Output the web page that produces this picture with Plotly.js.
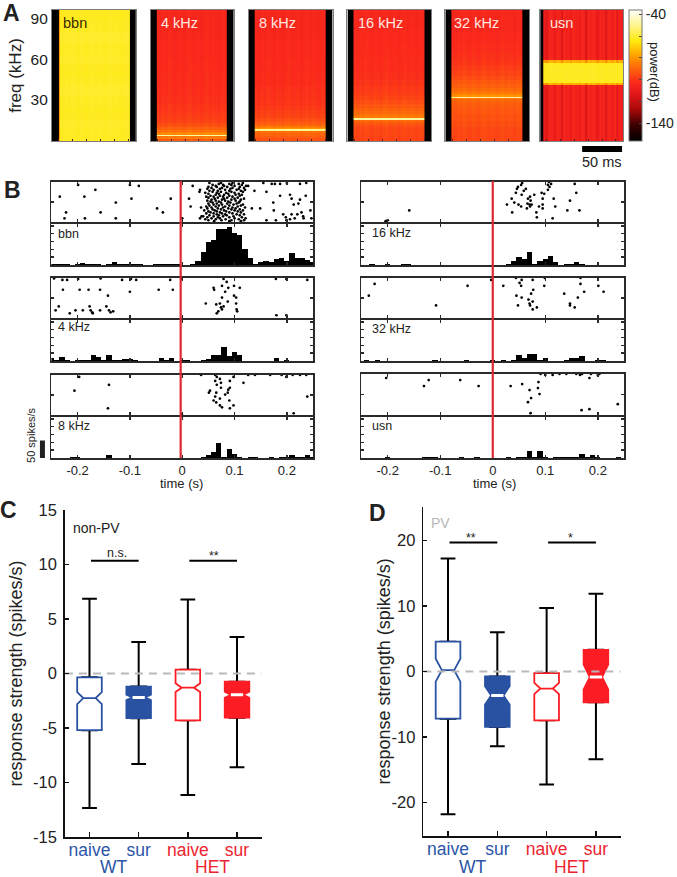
<!DOCTYPE html>
<html><head><meta charset="utf-8">
<script src="https://cdn.plot.ly/plotly-3.0.1.min.js"></script>
<style>html,body{margin:0;padding:0;background:#fff}</style></head>
<body><div id="chart" style="width:677px;height:877px"></div>
<script>
/* ---------- panel A: spectrogram rows (kHz edges, dB per band) ---------- */
const specNames = ['bbn','4 kHz','8 kHz','16 kHz','32 kHz','usn'];
const bbnEdges = [0,8,16,24,32,40,48,56,64,72,80,88,96];
const bbnDb = [-62,-61.5,-62.5,-62,-61,-62,-62.5,-61.5,-62,-61,-62,-62.5];
const k4Edges = [0,1.5,3.4,4.6,5.5,6.5,8,9,10,11,13,15,18,22,27,33,40,50,60,75,96];
const k4Db = [-92,-86,-48,-82,-85,-88,-90,-91,-93,-95,-97,-98,-99,-100,-101,-101.5,-102,-102.5,-103,-104];
const k8Edges = [0,2,4,5.5,7,7.6,8.6,9.2,10,11,12,13,15,17,20,23,26,30,35,40,50,60,75,96];
const k8Db = [-94,-92,-90,-88,-85,-50,-80,-84,-87,-89,-91,-93,-95,-97,-98,-99,-100,-100.5,-101,-102,-102.5,-103,-104];
const k16Edges = [0,4,8,10,12,13.5,15,15.6,16.5,17,18,20,22,24,27,30,33,36,40,45,50,60,70,82,96];
const k16Db = [-97,-96.5,-96,-95,-93,-91,-88,-48,-82,-85,-87,-89,-91,-93,-95,-97,-98,-99,-100,-101,-102,-102.5,-103,-104];
const k32Edges = [0,5,10,15,20,24,27,29,30.5,31.6,32.6,33.5,35,37,39,42,45,48,52,56,60,66,72,80,96];
const k32Db = [-96.5,-96,-95,-94,-93,-92,-91,-89,-86,-48,-80,-84,-87,-89,-91,-93,-95,-97,-98.5,-100,-101,-102,-103,-104];
const usnEdges = [0,41,42.5,44,56,57.5,59,96];
const usnDb = [-106,-75,-63,-62,-63,-75,-106];
const faintStreak = [0,-1,.5,-.5,1,0,-1,.5,0,-1,.5,1,-.5,0,.5,-1,0,1,-.5,.5,0,-1,.5,0];
const usnStreak = [-3,-7,0,1,-1,-4,1,0,-8,2,-1,0,-4,2,0,-1,-3,2,0,-9,1,-1,2,0,-5,1,-1,0,-8,1,-1,-3,2,-6,0,-2];
const blackLeft = [8.5,7,7.5,7,7,4];
const blackRight = [98,96,97,96,96,105];
/* ---------- panel B: rasters (time s, trial) ---------- */
const bbnSparseT = [-.199,-.166,-.234,-.187,-.127,-.097,-.10,-.083,-.022,-.048,-.037,-.222,-.225,-.186,-.127,-.156,0,.02,.013,.016,.034,.037,.036,.033,.034,.126,.138,.133,.149,.161,.155,.171,.177,.187,.2,.225,.237,.187,.206,.209,.225,.236,.174,.213,.222,.175,.228,.245,.193,.209,.22,.231,.198,.206,.215,.232,.179,.199,.247,.161];
const bbnSparseTrial = [38,33,26,26,20,24,38,37,24,14,10,10,4,4,4,10,4,37,24,16,4,6,15,31,33,37,32,14,14,31,40,39,39,39,40,39,40,27,28,24,23,27,20,18,19,12,10,12,8,8,8,6,5,3,4,4,2,2,4,2];
const bbnDenseTrials = [
 [.061,.09,.112],[.05,.075,.094,.118],[.044,.064,.083,.108],[.056,.072,.1,.121],[.048,.068,.09,.114],
 [.04,.06,.078,.098],[.052,.07,.085,.11],[.066,.082,.104,.118],[.046,.06,.076,.096],[.054,.072,.09,.112],
 [.05,.066,.084,.106],[.042,.062,.08,.1,.116],[.058,.074,.094,.11],[.048,.068,.088,.102],[.056,.078,.096,.12],
 [.046,.064,.082,.106],[.052,.07,.09,.112],[.06,.076,.098,.116],[.05,.066,.086,.104],[.058,.074,.092,.108],
 [.054,.07,.088,.11],[.048,.064,.082,.102],[.056,.076,.094,.112],[.062,.08,.1,.118],[.05,.068,.086,.106],
 [.046,.06,.078,.096],[.054,.072,.09,.11],[.064,.08,.102,.114],[.05,.07,.088,.108],[.044,.066,.084,.1],
 [.058,.074,.094,.116],[.052,.068,.09,.112],[.06,.082,.104,.12],[.048,.072,.092,.108],[.056,.076,.096,.118],
 [.05,.066,.086,.11],[.064,.08,.1,.122],[.058,.078,.094,.114],[.07,.09,.108],[.052,.074,.096,.116]];
const k4T = [-.245,-.229,-.22,-.199,-.156,-.115,-.098,-.088,-.023,-.001,-.228,-.196,-.179,-.157,-.1,-.045,-.018,-.142,-.236,-.242,-.215,-.204,-.19,-.177,-.175,-.172,-.171,-.157,-.145,-.14,-.137,-.132,.079,.085,.099,.11,.076,.06,.061,.088,.082,.099,.103,.076,.045,.065,.072,.079,.087,.103,.074,.069,.066,.076,.104,.105,.18,.199,.179,.199,.239];
const k4Trial = [40.5,39,39,40,40.5,39,40,39,39,40,29,29,29,29,27,29,29,23,12,8,5,8,8,12,8,6,5,8,12,8,6,7,40,37,33,31,33,31,29,31,27,23,21,21,15,14,15,12,17,15,11,7,5,9,9,7,3,3,40,40,39];
const k8T = [-.197,-.14,-.206,-.142,.213,-.001,.239,.036,.063,.098,.126,.139,.168,.19,.199,.211,.225,.237,.066,.072,.063,.091,.066,.074,.074,.117,.091,.088,.053,.051,.065,.087,.082,.063,.09,.06,.065,.072,.072,.076,.098,.091];
const k8Trial = [39,31,25,7,2,1,19,41,41,39,41,41,41,41,39,41,41,41,39,37,35,35,31,33,28,33,28,26,25,23,23,23,21,19,15,15,13,17,10,8,10,7];
const k16T = [-.159,-.204,-.2,.056,.054,.048,.046,.063,.059,.044,.055,.036,.027,.041,.049,.054,.037,.071,.067,.072,.066,.07,.074,.071,.065,.079,.093,.098,.095,.088,.095,.095,.083,.084,.114,.116,.119,.142,.147,.159,.165,.156,.107,.111,.105,.108,.105];
const k16Trial = [12,1,2,40,38,36,34,34,32,30,28,24,18,20,18,16,10,26,24,22,19,18,18,16,14,28,30,29,24,16,18,14,10,5,4,24,16,12,22,30,12,39,41,39,38,36,33];
const k32T = [-.225,-.236,-.048,-.108,-.003,.02,.044,.055,.076,.099,.051,.054,.098,.077,.073,.045,.055,.068,.076,.07,.048,.071,.084,.076,.136,.174,.162,.147,.147,.156,.167,.201,.211,.167];
const k32Trial = [35,23,33,13,39,33,41,39,39,41,36,33,33,29,25,23,21,19,17,15,13,13,11,9,25,27,21,15,13,11,35,33,27,41];
const usnT = [-.203,-.122,-.131,-.062,-.027,.034,.056,.087,.07,.086,.089,.073,.067,.072,.091,.10,.114,.127,.14,.159,.166,.17,.184,.187,.2,.203,.238,.184,.169];
const usnTrial = [37,35,29,35,29,29,31,33,25,27,21,17,13,2,41,40,40,41,41,41,40,41,37,41,40,41,11,6,5];
/* ---------- panel B: PSTH (spikes/s per 10 ms bin) ---------- */
const binCenters = [-.25,-.24,-.23,-.22,-.21,-.20,-.19,-.18,-.17,-.16,-.15,-.14,-.13,-.12,-.11,-.10,-.09,-.08,-.07,-.06,-.05,-.04,-.03,-.02,-.01,0,.01,.02,.03,.04,.05,.06,.07,.08,.09,.10,.11,.12,.13,.14,.15,.16,.17,.18,.19,.20,.21,.22,.23,.24,.25];
const psthBbn = [2,2,2,2,1,2,6,2,3,3, 0,2,7,2,2,2,3,2,0,1, 2,2,3,2,2,0,1,4,10,37, 63,68,98,98,105,88,83,44,18,4, 9,11,7,16,19,11,33,19,18,13,9];
const psth4 = [7,4,11,4,0,4,4,4,16,12, 4,16,4,2,6,6,2,0,0,0, 0,7,2,7,0,2,2,0,0,2, 5,16,16,39,13,25,16,0,0,0, 0,0,1,7,0,3,0,0,0,0,0];
const psth8 = [0,0,0,0,2,2,0,0,0,0, 0,7,0,0,0,0,0,0,0,0, 0,0,0,0,0,0,0,0,1,3, 7,16,42,3,26,12,2,1,2,2, 1,1,2,0,2,2,7,2,2,7,4];
const psth16 = [0,0,2,0,0,2,0,0,2,2, 0,0,0,0,0,0,0,0,0,0, 0,0,0,0,0,0,0,1,2,11, 21,16,35,4,11,16,26,7,1,3, 3,7,3,1,0,0,0,0,0,0,0];
const psth32 = [0,2,0,2,0,1,0,0,0,0, 0,0,0,0,2,0,0,0,0,0, 2,0,0,0,0,4,0,2,1,4, 17,7,18,18,4,7,1,0,0,3, 7,7,13,1,0,3,3,0,0,0,0];
const psthUsn = [0,0,0,0,0,2,0,0,0,0, 0,0,2,2,2,0,0,0,0,2, 0,0,2,0,0,0,0,0,2,0, 3,3,18,3,18,3,0,2,2,2, 2,4,12,3,7,3,0,0,0,3,0];
/* ---------- panels C, D: box statistics ---------- */
const boxCats = ['naive','sur','naive','sur'];
const groupNames = ['WT','HET'];
const cQ1 = [-5.2,-4.1,-4.3,-4.05];
const cMed = [-2.25,-2.2,-1.3,-1.95];
const cQ3 = [-0.35,-1.2,0.35,-0.75];
const cLow = [-12.35,-8.3,-11.15,-8.6];
const cHigh = [6.85,2.9,6.8,3.35];
const cNotch = [0.55,0.25,0.4,0.28];
const dQ1 = [-7.2,-8.45,-7.45,-4.7];
const dMed = [0.2,-3.65,-2.6,-0.85];
const dQ3 = [4.55,-0.75,-0.25,3.3];
const dLow = [-21.8,-11.4,-17.25,-13.4];
const dHigh = [17.25,6,9.7,11.85];
const dNotch = [1.75,1.4,0.85,1.9];
const cSig = 10.35, dSig = 19.7;

/* ---------- helpers ---------- */
const W = 677, H = 877;
const px = v => v / W, py = v => 1 - v / H;
const layout = {
  width:W, height:H, margin:{l:0,r:0,t:0,b:0}, paper_bgcolor:'#fff', plot_bgcolor:'#fff',
  showlegend:false, bargap:0, boxmode:'overlay', annotations:[], shapes:[],
  font:{family:'"Liberation Sans", Arial, sans-serif', color:'#222'},
  coloraxis:{cmin:-156.5,cmax:-36,colorscale:[[0,'#000000'],[.12,'#3a0000'],[.25,'#b00a0a'],[.38,'#ea1a1c'],[.45,'#fb2a1c'],[.62,'#ff8c00'],[.76,'#ffe80a'],[.88,'#fff58a'],[1,'#ffffff']],
    colorbar:{x:629/W,xanchor:'left',y:py(10),yanchor:'top',lenmode:'pixels',len:131,thicknessmode:'pixels',thickness:13,xpad:0,ypad:0,
      outlinecolor:'#777',outlinewidth:1,tickvals:[-140,-120,-100,-80,-60,-40],ticktext:['-140','','','','','-40'],ticks:'inside',ticklen:3,tickcolor:'#444',tickfont:{size:14,color:'#222'}}}
};
const data = [];
let axN = 0;
function addAxes(x0,x1,yTop,yBot,xo,yo){
  axN++; const s = axN===1?'':axN;
  layout['xaxis'+s] = Object.assign({domain:[px(x0),px(x1)],anchor:'y'+s,zeroline:false,showgrid:false},xo);
  layout['yaxis'+s] = Object.assign({domain:[py(yBot),py(yTop)],anchor:'x'+s,zeroline:false,showgrid:false},yo);
  return {x:'x'+s,y:'y'+s};
}
function note(x,y,text,size,color,extra){
  layout.annotations.push(Object.assign({xref:'paper',yref:'paper',x:px(x),y:py(y),text,showarrow:false,xanchor:'center',yanchor:'middle',font:{size,color}},extra||{}));
}

/* ---------- panel A ---------- */
const specEdges = [bbnEdges,k4Edges,k8Edges,k16Edges,k32Edges,usnEdges];
const specDb = [bbnDb,k4Db,k8Db,k16Db,k32Db,usnDb];
const specBox = [[52,136],[151,234],[249,333],[348,432],[446,530],[541,624]];
const specLabelX = [75,180,278,381,477,562];
specNames.forEach((name,p)=>{
  const L = blackLeft[p], R = blackRight[p], isUsn = p===5, isBbn = p===0;
  const streak = isUsn ? usnStreak : faintStreak;
  const xe = [0,L]; const vals = [null];
  const innerL = isBbn?L+.9:L, innerR = isBbn?R-.9:R;
  if(isBbn){ xe.push(innerL); vals.push('edge'); }
  streak.forEach((s,j)=>{ xe.push(innerL+(innerR-innerL)*(j+1)/streak.length); vals.push(s); });
  if(isBbn){ xe.push(R); vals.push('edge'); }
  if(R<105){ xe.push(105); vals.push(null); }
  const z = specDb[p].map(db => vals.map((v,j)=>{
    if(v===null) return -156;
    if(v==='edge') return -80;
    if(isUsn && xe[j+1]<=5) return -106 + v;
    if(isBbn) return db + v*.5;
    return db + (db > -70 ? v*.1 : v);
  }));
  const a = addAxes(specBox[p][0],specBox[p][1],10,141,
    {range:[0,105],tick0:26,dtick:17.5,ticks:'inside',ticklen:2,tickcolor:'#5a2020',showticklabels:false,showline:true,linecolor:'#808080',linewidth:1,mirror:true},
    p===0?{range:[0,96],tickvals:[30,60,90],ticktext:['30','60','90'],ticks:'',tickfont:{size:15.5,color:'#222'},showline:true,linecolor:'#808080',linewidth:1,mirror:true,
      title:{text:'freq (kHz)',font:{size:17,color:'#222'},standoff:4}}:
      {range:[0,96],showticklabels:false,ticks:'',showline:true,linecolor:'#808080',linewidth:1,mirror:true});
  data.push({type:'heatmap',x:xe,y:specEdges[p],z,coloraxis:'coloraxis',xaxis:a.x,yaxis:a.y,hoverinfo:'skip'});
  note(specLabelX[p],23,name,14.5,p===0?'#3a2a00':'#ffe8e0');
});
note(655,72,'power(dB)',13,'#222',{textangle:90});
note(603,162,'50 ms',14.5,'#222');
layout.shapes.push({type:'rect',xref:'paper',yref:'paper',x0:px(583),x1:px(623),y0:py(152),y1:py(146),fillcolor:'#000',line:{width:0}});

/* ---------- panel B ---------- */
const bbnDenseT = [], bbnDenseTrial = [];
bbnDenseTrials.forEach((row,i)=>row.forEach(t=>{bbnDenseT.push(t);bbnDenseTrial.push(i+1);}));
const rasters = [
 {x:bbnSparseT.concat(bbnDenseT),y:bbnSparseTrial.concat(bbnDenseTrial),psth:psthBbn,label:'bbn'},
 {x:k4T,y:k4Trial,psth:psth4,label:'4 kHz'},
 {x:k8T,y:k8Trial,psth:psth8,label:'8 kHz'},
 {x:k16T,y:k16Trial,psth:psth16,label:'16 kHz'},
 {x:k32T,y:k32Trial,psth:psth32,label:'32 kHz'},
 {x:usnT,y:usnTrial,psth:psthUsn,label:'usn'}];
const rowPx = [[182,223,265],[278,319,361],[375,416,458],[182,223,265],[278,319,361],[374,416,458]];
const frame = {showline:true,linecolor:'#2a2a2a',linewidth:1.6,mirror:'allticks',ticks:'inside',ticklen:3,tickcolor:'#2a2a2a',tickwidth:1.4};
const timeVals = [-.2,-.1,0,.1,.2], timeText = ['-0.2','-0.1','0','0.1','0.2'];
const anchors = [];
rasters.forEach((r,i)=>{
  const c0 = i<3?51.5:362, c1 = i<3?313.5:625, [a,b,d] = rowPx[i];
  const ax1 = addAxes(c0,c1,a,b-.8,Object.assign({range:[-.25,.25],tickvals:timeVals,showticklabels:false},frame),
     Object.assign({range:[0,41],tickvals:[20.5],showticklabels:false},frame));
  data.push({type:'scatter',mode:'markers',x:r.x,y:r.y,xaxis:ax1.x,yaxis:ax1.y,cliponaxis:false,marker:{size:2.7,color:'#000'},hoverinfo:'skip'});
  const bottom = i===2||i===5;
  const ax2 = addAxes(c0,c1,b+.8,d,Object.assign({range:[-.25,.25],tickvals:timeVals,ticktext:timeText,showticklabels:bottom,tickfont:{size:13,color:'#222'},ticklabelstandoff:0},frame),
     Object.assign({range:[0,113],tick0:0,dtick:21.5,showticklabels:false},frame));
  data.push({type:'bar',x:binCenters,y:r.psth,width:.01,xaxis:ax2.x,yaxis:ax2.y,marker:{color:'#000',line:{width:0}},hoverinfo:'skip'});
  note(i<3?56:371,b+(i===0?11:i===1?8:10),r.label,12.5,'#222',{xanchor:'left'});
  anchors.push(ax2);
});
note(182,483,'time (s)',13,'#222');
note(495,483,'time (s)',13,'#222');
const redLine = (axis,t)=>layout.shapes.push({type:'line',xref:axis.x,yref:'paper',x0:t,x1:t,y0:py(181),y1:py(458),line:{color:'#dc2a30',width:2.2},layer:'above'});
redLine(anchors[0],-.003); redLine(anchors[3],0);
layout.shapes.push({type:'rect',xref:'paper',yref:anchors[2].y,x0:px(40),x1:px(45),y0:-2,y1:48,fillcolor:'#222',line:{width:0}});
note(31,435,'50 spikes/s',11,'#222',{textangle:-90});

/* ---------- panels C, D ---------- */
const BLUE='#2a52a3', RED='#fb1c24';
const boxColor = [BLUE,BLUE,RED,RED], boxFilled = [false,true,false,true];
const catColors = ['#2b55a6','#2b55a6','#ec2430','#ec2430'];
function boxPanel(x0,x1,top,bot,range,yTicks,stats,sig,title){
  const a = addAxes(x0,x1,top,bot,
    {range:[.5,4.5],tickvals:[1,2,3,4],ticktext:boxCats.map((c,i)=>`<span style="color:${catColors[i]}">${c}</span>`),ticks:'inside',ticklen:5,tickwidth:1.6,tickcolor:'#111',showline:true,linecolor:'#111',linewidth:1.7,tickfont:{size:17.5},ticklabelstandoff:-4},
    Object.assign({range,tickvals:yTicks,ticktext:yTicks.map(String),ticks:'inside',ticklen:4,tickwidth:1.4,tickcolor:'#111',showline:true,linecolor:'#111',linewidth:1.7,tickfont:{size:16.5,color:'#222'},ticklabelstandoff:3},
     title?{title:{text:title,font:{size:18,color:'#222'},standoff:6}}:{}));
  const base = {type:'box',xaxis:a.x,yaxis:a.y,boxpoints:false,notched:true,notchwidth:.25,hoverinfo:'skip',orientation:'v'};
  [1,2,3,4].forEach((pos,i)=>{
    data.push(Object.assign({},base,{x:[pos],q1:[stats.q1[i]],median:[stats.med[i]],q3:[stats.q3[i]],lowerfence:[stats.low[i]],upperfence:[stats.high[i]],notchspan:[stats.notch[i]],
      width:.3,whiskerwidth:1,line:{color:'#000',width:2},fillcolor:'rgba(0,0,0,0)'}));
  });
  [1,2,3,4].forEach((pos,i)=>{
    data.push(Object.assign({},base,{x:[pos],q1:[stats.q1[i]],median:[stats.med[i]],q3:[stats.q3[i]],lowerfence:[stats.q1[i]],upperfence:[stats.q3[i]],notchspan:[stats.notch[i]],
      width:.5,whiskerwidth:0,line:{color:boxColor[i],width:1.8},fillcolor:boxFilled[i]?boxColor[i]:'#ffffff'}));
    if(boxFilled[i]) data.push({type:'scatter',mode:'lines',x:[pos-.125,pos+.125],y:[stats.med[i],stats.med[i]],xaxis:a.x,yaxis:a.y,line:{color:'#fff',width:3},hoverinfo:'skip'});
  });
  [[1.03,2],[3.03,4]].forEach(s=>data.push({type:'scatter',mode:'lines',x:s,y:[sig,sig],xaxis:a.x,yaxis:a.y,line:{color:'#000',width:2},hoverinfo:'skip'}));
  data.push({type:'scatter',mode:'lines',x:[.5,4.5],y:[0,0],xaxis:a.x,yaxis:a.y,line:{color:'#b9b9b9',width:2,dash:'8px,6px'},hoverinfo:'skip'});
  return a;
}
const strengthTitle = 'response strength (spikes/s)';
const aC = boxPanel(65,262,510,837,[-15,15],[-15,-10,-5,0,5,10,15],{q1:cQ1,med:cMed,q3:cQ3,low:cLow,high:cHigh,notch:cNotch},cSig,strengthTitle);
const aD = boxPanel(424,621.5,507,836,[-25.1,25.1],[-20,-10,0,10,20],{q1:dQ1,med:dMed,q3:dQ3,low:dLow,high:dHigh,notch:dNotch},dSig,null);
note(385,671,strengthTitle,18,'#222',{textangle:-90});
[[aC,867],[aD,867]].forEach(([a,y])=>{
  groupNames.forEach((g,i)=>layout.annotations.push({xref:a.x,yref:'paper',x:i?3.5:1.5,y:py(y),text:g,showarrow:false,xanchor:'center',yanchor:'middle',font:{size:17.5,color:i?catColors[2]:catColors[0]}}));
});
note(97,528,'non-PV',14,'#222');
note(441,523,'PV',14,'#b8b8b8');
note(117,553,'n.s.',12.5,'#222');
note(214,556,'**',12.5,'#222');
note(472,538,'**',12.5,'#222');
note(571,538,'*',12.5,'#222');
/* panel letters */
[['A',12,13],['B',13,190],['C',9,510],['D',378,513]].forEach(l=>note(l[1],l[2],'<b>'+l[0]+'</b>',23,'#222'));

Plotly.newPlot('chart',data,layout,{displayModeBar:false,staticPlot:true});
</script></body></html>
